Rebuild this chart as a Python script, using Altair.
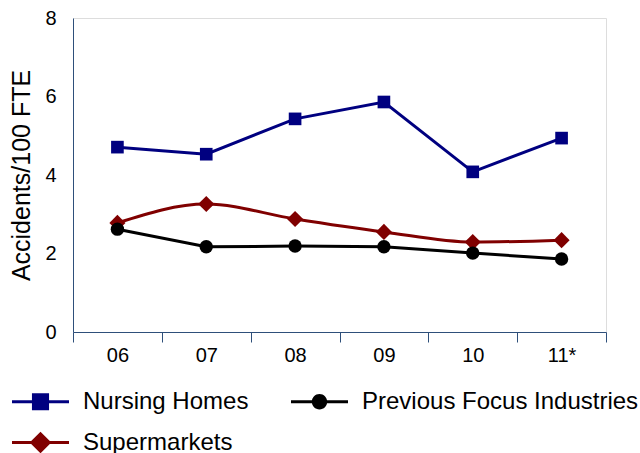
import altair as alt
import pandas as pd

years = ["06", "07", "08", "09", "10", "11*"]
series_names = ["Nursing Homes", "Supermarkets", "Previous Focus Industries"]
nursing = [4.71, 4.53, 5.43, 5.86, 4.08, 4.94]
supermarkets = [2.78, 3.26, 2.88, 2.55, 2.29, 2.34]
previous = [2.62, 2.17, 2.19, 2.17, 2.01, 1.86]

rows = []
for name, vals in zip(series_names, [nursing, supermarkets, previous]):
    for y, v in zip(years, vals):
        rows.append({"series": name, "year": y, "value": v})
df = pd.DataFrame(rows)

FONT = "Liberation Sans"
AXIS_COLOR = "#2e4f7a"
styles = {
    "Nursing Homes": dict(color="#000080", shape="square", size=160, interp="linear"),
    "Supermarkets": dict(color="#800000", shape="diamond", size=260, interp="monotone"),
    "Previous Focus Industries": dict(color="#000000", shape="circle", size=180, interp="linear"),
}
legend_order = ["Nursing Homes", "Previous Focus Industries", "Supermarkets"]
legend_colors = ["#000080", "#000000", "#800000"]
legend_paths = [
    "M-1,-0.05H-0.25V0.05H-1Z M0.25,-0.05H1V0.05H0.25Z M-0.3,-0.3H0.3V0.3H-0.3Z",
    "M-1,-0.05H-0.2V0.05H-1Z M0.2,-0.05H1V0.05H0.2Z M-0.27,0A0.27,0.27 0 1,1 0.27,0A0.27,0.27 0 1,1 -0.27,0Z",
    "M-1,-0.05H-0.3V0.05H-1Z M0.3,-0.05H1V0.05H0.3Z M0,-0.38L0.38,0L0,0.38L-0.38,0Z",
]

x_enc = alt.X(
    "year:N",
    sort=years,
    scale=alt.Scale(type="band", paddingInner=0, paddingOuter=0),
    axis=alt.Axis(
        title=None, labelAngle=0, labelFont=FONT, labelFontSize=20, labelColor="black",
        tickBand="extent", tickSize=10, tickColor=AXIS_COLOR, domainColor=AXIS_COLOR,
        labelPadding=3, grid=False,
    ),
)
y_enc = alt.Y(
    "value:Q",
    scale=alt.Scale(domain=[0, 8], nice=False),
    axis=alt.Axis(
        title="Accidents/100 FTE", values=[0, 2, 4, 6, 8], ticks=False, grid=False,
        labelFont=FONT, labelFontSize=20, labelColor="black", labelPadding=17,
        domainColor=AXIS_COLOR, titleFont=FONT, titleFontSize=25, titleFontWeight="normal",
        titleColor="black", titlePadding=10,
    ),
)

base = alt.Chart(df)
layers = []
for name in series_names:
    st = styles[name]
    sub = base.transform_filter(alt.datum.series == name)
    layers.append(
        sub.mark_line(strokeWidth=3, color=st["color"], interpolate=st["interp"]).encode(x=x_enc, y=y_enc)
    )
for name in series_names:
    st = styles[name]
    sub = base.transform_filter(alt.datum.series == name)
    layers.append(
        sub.mark_point(shape=st["shape"], filled=True, size=st["size"], opacity=1, color=st["color"]).encode(
            x=x_enc, y=y_enc
        )
    )

legend_layer = base.mark_point(filled=True, size=0, opacity=1).encode(
    x=x_enc, y=y_enc,
    color=alt.Color(
        "series:N", scale=alt.Scale(domain=legend_order, range=legend_colors),
        legend=alt.Legend(
            title=None, orient="none", legendX=-61, legendY=355, columns=2,
            direction="horizontal", symbolSize=3249, symbolStrokeWidth=0,
            labelFont=FONT, labelFontSize=24, labelColor="black", labelOffset=14,
            labelLimit=400, columnPadding=42, rowPadding=-30, symbolOpacity=1,
        ),
    ),
    shape=alt.Shape("series:N", scale=alt.Scale(domain=legend_order, range=legend_paths)),
)
layers.append(legend_layer)

chart = alt.layer(*layers).properties(
    width=533, height=314,
    autosize=alt.AutoSizeParams(type="none"),
    padding={"left": 73, "top": 18, "right": 34, "bottom": 121},
).configure_view(stroke=None).configure(background="white")

chart.save("out.html", embed_options={"renderer": "svg", "actions": False})
